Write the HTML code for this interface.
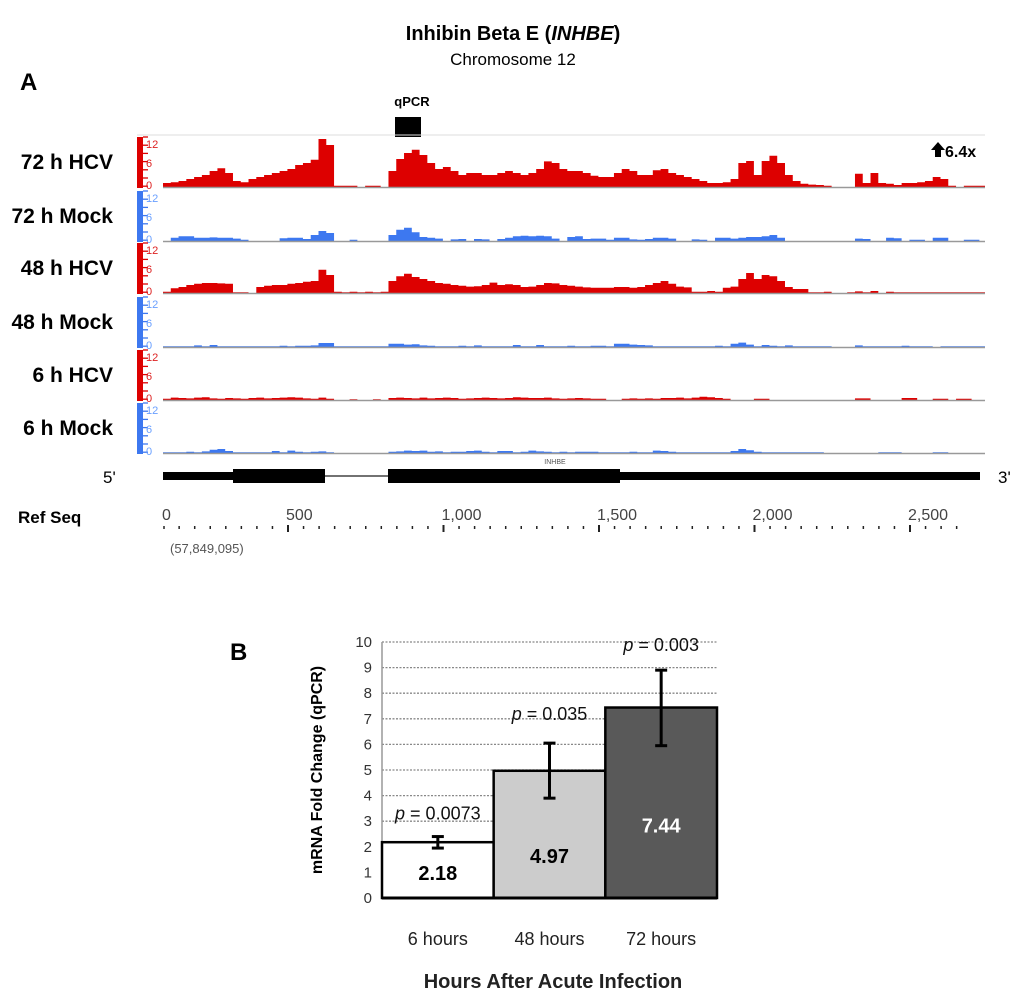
<!DOCTYPE html>
<html><head><meta charset="utf-8"><style>
body{margin:0;background:#fff;}
svg{display:block;font-family:"Liberation Sans",Arial,sans-serif;}
</style></head><body>
<svg id="fig" width="1026" height="1000" viewBox="0 0 1026 1000" xmlns="http://www.w3.org/2000/svg">
<text x="513" y="40" font-size="20" font-weight="bold" text-anchor="middle">Inhibin Beta E (<tspan font-style="italic">INHBE</tspan>)</text>
<text x="513" y="65" font-size="17" text-anchor="middle">Chromosome 12</text>
<text x="20" y="90" font-size="24" font-weight="bold">A</text>
<text x="412" y="106" font-size="13" font-weight="bold" text-anchor="middle">qPCR</text>
<rect x="395" y="117" width="26" height="20" fill="#000"/>
<line x1="137" y1="135" x2="985" y2="135" stroke="#ddd" stroke-width="1"/>
<g id="tracks"></g>
<g id="gene">
<text x="103" y="483" font-size="17">5'</text>
<text x="998" y="483" font-size="17">3'</text>
<rect x="163" y="472" width="817" height="8" fill="#000"/>
<rect x="233" y="469" width="92" height="14" fill="#000"/>
<rect x="325" y="471" width="63" height="10" fill="#fff"/>
<line x1="325" y1="476" x2="388" y2="476" stroke="#444" stroke-width="1.5"/>
<rect x="388" y="469" width="232" height="14" fill="#000"/>
<text x="555" y="464" font-size="7" fill="#555" text-anchor="middle">INHBE</text>
</g>
<text x="18" y="523" font-size="17" font-weight="bold">Ref Seq</text>
<g id="ruler"></g>
<text x="170" y="553" font-size="13" fill="#555">(57,849,095)</text>
<text x="945" y="157" font-size="16" font-weight="bold">6.4x</text>
<path d="M938 142 L945 150 L941 150 L941 157 L935 157 L935 150 L931 150 Z" fill="#000"/>
<text x="230" y="660" font-size="24" font-weight="bold">B</text>
<g id="bars"></g>
</svg>
<script>
const NS="http://www.w3.org/2000/svg";
function mk(tag,attrs,parent){const e=document.createElementNS(NS,tag);for(const k in attrs)e.setAttribute(k,attrs[k]);parent.appendChild(e);return e;}
// ---- Panel A data ----
const trackNames=["72 h HCV","72 h Mock","48 h HCV","48 h Mock","6 h HCV","6 h Mock"];
const trackColors=["#dd0000","#3d78f0","#dd0000","#3d78f0","#dd0000","#3d78f0"];
const binSize=25;
const cov72HCV=[1,1.2,1.5,2,2.5,3,4,4.7,3.5,1.5,1.2,2,2.5,3,3.5,4,4.5,5.5,6,6.8,12,10.5,0.3,0.3,0.3,0,0.3,0.3,0,4,7,8.5,9.3,8,6,4.5,5,4,3,3.5,3.5,3,3,3.5,4,3.5,3,3.5,4.5,6.4,6,4.5,4,4,3.5,2.8,2.5,2.5,3.5,4.5,4,3,3,4.2,4.5,3.5,3,2.5,2,1.5,1,1,1.2,2,6,6.5,3,6.5,7.8,6,3,1.5,0.8,0.6,0.5,0.3,0,0,0,3.3,1,3.5,1,0.8,0.5,1,1,1.2,1.5,2.5,2,0.3,0,0.3,0.3,0.3];
const cov72Mock=[0,0.8,1.2,1.2,0.8,0.8,0.9,0.8,0.8,0.6,0.3,0,0,0,0,0.7,0.8,0.8,0.5,1.5,2.5,2,0,0,0.3,0,0,0,0,1.5,2.8,3.3,2.2,1,0.8,0.6,0,0.4,0.5,0,0.5,0.4,0,0.5,0.8,1.2,1.3,1.2,1.3,1.2,0.6,0,1,1.2,0.5,0.6,0.6,0.3,0.8,0.8,0.4,0.3,0.5,0.8,0.8,0.6,0,0,0.4,0.3,0,0.8,0.8,0.6,0.8,1,1,1.2,1.5,0.8,0,0,0,0,0,0,0,0,0,0.6,0.5,0,0,0.8,0.7,0,0.3,0.3,0,0.8,0.8,0,0,0.3,0.3,0];
const cov48HCV=[0.3,1.2,1.5,2,2.3,2.5,2.5,2.4,2.3,0.2,0.2,0,1.5,1.8,2,2,2.3,2.5,2.8,3,5.8,4.5,0.3,0.2,0.3,0.2,0.3,0.2,0.3,3,4.2,4.8,4,3.5,3,2.5,2.3,2,1.8,1.6,1.7,2,2.6,2,2.2,2,1.5,1.6,2,2.5,2.4,2,1.8,1.6,1.4,1.3,1.3,1.3,1.5,1.5,1.3,1.5,2,2.5,3,2.3,1.6,1.4,0.3,0.3,0.5,0.3,1.3,1.6,3.5,5,3.5,4.5,4.2,3,1.5,1,1,0.2,0.2,0.3,0,0,0.2,0.4,0.2,0.5,0,0.3,0.2,0.2,0.2,0.2,0.2,0.2,0.2,0.2,0.2,0.2,0.2,0.2];
const cov48Mock=[0.2,0.2,0.2,0.2,0.4,0.2,0.5,0.2,0.2,0.2,0.2,0.2,0.2,0.2,0.2,0.3,0.2,0.3,0.3,0.4,1,1,0.2,0.2,0.2,0.2,0.2,0.2,0.2,0.8,0.8,0.6,0.7,0.4,0.3,0.2,0.2,0.2,0.3,0.2,0.4,0.2,0.2,0.2,0.2,0.5,0.2,0.2,0.5,0.2,0.2,0.2,0.3,0.2,0.2,0.3,0.3,0.2,0.8,0.8,0.6,0.5,0.4,0.2,0.2,0.2,0.2,0.2,0.2,0.2,0.2,0.3,0.2,0.8,1.1,0.6,0.2,0.5,0.3,0.2,0.4,0.2,0.2,0.2,0.2,0.2,0,0,0,0.4,0.2,0.2,0.2,0.2,0.2,0.3,0.2,0.2,0.2,0,0.2,0.2,0.2,0.2,0.2,0.2];
const cov6HCV=[0.3,0.6,0.5,0.4,0.6,0.7,0.4,0.3,0.5,0.4,0.3,0.5,0.6,0.4,0.5,0.6,0.7,0.6,0.4,0.3,0.6,0.3,0,0,0.2,0,0,0.2,0,0.5,0.6,0.5,0.4,0.6,0.4,0.5,0.6,0.5,0.3,0.4,0.5,0.6,0.5,0.4,0.5,0.7,0.6,0.5,0.5,0.6,0.4,0.3,0.4,0.5,0.4,0.3,0.3,0,0,0.3,0.4,0.3,0.4,0.3,0.5,0.5,0.6,0.4,0.6,0.8,0.7,0.5,0.3,0,0,0,0.3,0.3,0,0,0,0,0,0,0,0,0,0,0,0.4,0.4,0,0,0,0,0.5,0.5,0,0,0.3,0.3,0,0.3,0.3,0,0];
const cov6Mock=[0.2,0.2,0.2,0.3,0.2,0.4,0.8,1,0.5,0.2,0.2,0.2,0.2,0.2,0.5,0.2,0.6,0.3,0.2,0.3,0.4,0.2,0,0,0,0,0,0,0,0.3,0.4,0.6,0.5,0.6,0.3,0.4,0.2,0.3,0.3,0.5,0.6,0.3,0.2,0.5,0.5,0.2,0.3,0.6,0.4,0.3,0.2,0.3,0.2,0.3,0.3,0.3,0.2,0.2,0.2,0.2,0.3,0.2,0.2,0.6,0.5,0.3,0.2,0.2,0.2,0.2,0.2,0.2,0.2,0.5,1,0.7,0.3,0.2,0.2,0.2,0.2,0.2,0.2,0.2,0.2,0,0,0,0,0,0,0,0.2,0.2,0.2,0,0,0,0,0.2,0.2,0,0,0,0,0];
const coverage=[cov72HCV,cov72Mock,cov48HCV,cov48Mock,cov6HCV,cov6Mock];
const trackMax=12;
const axisTicks=[12,6,0];
const rulerTicks=[0,500,1000,1500,2000,2500];
const rulerLabels=["0","500","1,000","1,500","2,000","2,500"];

const X0=163,BP=0.311,TH=48,baselines=[187,241,293,347,400,453];
const xs=bp=>X0+bp*BP;
const RX0=132.5;
const xr=bp=>Math.max(164,RX0+bp*BP);
const g=document.getElementById('tracks');
trackNames.forEach((name,t)=>{
  const base=baselines[t],col=trackColors[t];
  const ys=v=>base-v/trackMax*TH;
  const tg=mk('g',{},g);
  
  
  const lab=mk('text',{x:113,y:base-18,'font-size':21,'font-weight':'bold','text-anchor':'end'},tg);
  lab.textContent=name;
  
  
  const ax=mk('rect',{x:137,y:base-50,width:6,height:51,fill:col},tg);
  
  
  for(let k=0;k<=6;k++){mk('line',{x1:143,x2:148,y1:base-50+k*8.2,y2:base-50+k*8.2,stroke:col,'stroke-width':1.3},tg);}
  axisTicks.forEach(v=>{const tx=mk('text',{x:146,y:ys(v)+ (v==12?9:(v==0?2:4)),'font-size':11,fill:t%2?'#6aa0ff':'#dd2222'},tg);tx.textContent=String(v);
    
    });
  const data=coverage[t];
  let d='M'+xs(0)+' '+base;
  data.forEach((v,i)=>{const xa=xs(i*binSize),xb=Math.min(xs((i+1)*binSize),985);d+=' L'+xa+' '+ys(v)+' L'+xb+' '+ys(v);});
  d+=' L985 '+base+' Z';
  const p=mk('path',{d:d,fill:col},tg);
  
  
  mk('line',{x1:X0,x2:985,y1:base+0.5,y2:base+0.5,stroke:'#999','stroke-width':1.5},tg);
});
const r=document.getElementById('ruler');
rulerTicks.forEach((v,i)=>{const t=mk('text',{x:xr(v)-2,y:520,'font-size':16,fill:'#444'},r);t.textContent=rulerLabels[i];
  
  });
for(let bp=100;bp<=2650;bp+=50){const maj=bp%500===0;const x=xr(bp);mk('line',{x1:x,x2:x,y1:maj?525:526,y2:maj?532:529,stroke:'#222','stroke-width':maj?2:1.5},r);}

// ---- Panel B data ----
const categories=["6 hours","48 hours","72 hours"];
const foldValues=[2.18,4.97,7.44];
const errLow=[1.95,3.9,5.95];
const errHigh=[2.4,6.05,8.9];
const pLabels=["0.0073","0.035","0.003"];
const valueLabels=["2.18","4.97","7.44"];
const yTicks=[0,1,2,3,4,5,6,7,8,9,10];
const barFills=["#ffffff","#cccccc","#595959"];
const labelFills=["#000","#000","#fff"];

const PX0=382,PX1=717,Y0=898,UNIT=25.6;
const yb=v=>Y0-v*UNIT;
const bw=(PX1-PX0)/categories.length;
const xb=i=>PX0+i*bw;
const B=document.getElementById('bars');
const ylab=mk('text',{x:0,y:0,'font-size':16,'font-weight':'bold',transform:'translate(322,770) rotate(-90)','text-anchor':'middle'},B);
ylab.textContent='mRNA Fold Change (qPCR)';


yTicks.forEach(v=>{
  const t=mk('text',{x:372,y:yb(v)+5,'font-size':15,fill:'#333','text-anchor':'end'},B);t.textContent=String(v);
  
  
  if(v>0){const l=mk('line',{x1:PX0,x2:PX1,y1:yb(v),y2:yb(v),stroke:'#888','stroke-width':1.3,'stroke-dasharray':'2,1.5'},B);
    
    }
});
mk('line',{x1:PX0,x2:PX0,y1:yb(10),y2:Y0,stroke:'#999','stroke-width':1.5},B);
const valueLabelOffsets=[38,92,125];
categories.forEach((c,i)=>{
  const rct=mk('rect',{x:xb(i),y:yb(foldValues[i]),width:bw,height:Y0-yb(foldValues[i]),fill:barFills[i],stroke:'#000','stroke-width':2.5},B);
  
  
  const cx=xb(i)+bw/2;
  const eb=mk('g',{stroke:'#000','stroke-width':3},B);
  
  
  mk('line',{x1:cx,x2:cx,y1:yb(errHigh[i]),y2:yb(errLow[i])},eb);
  mk('line',{x1:cx-6,x2:cx+6,y1:yb(errHigh[i]),y2:yb(errHigh[i])},eb);
  mk('line',{x1:cx-6,x2:cx+6,y1:yb(errLow[i]),y2:yb(errLow[i])},eb);
  const vl=mk('text',{x:cx,y:yb(foldValues[i])+valueLabelOffsets[i],'font-size':20,'font-weight':'bold','text-anchor':'middle',fill:labelFills[i]},B);
  vl.textContent=valueLabels[i];
  
  
  const py=i===0?yb(errHigh[i])-17:(i===1?yb(errHigh[i])-23:yb(errHigh[i])-19);
  const pl=mk('text',{x:cx,y:py,'font-size':18,'text-anchor':'middle',fill:'#111'},B);
  pl.innerHTML='<tspan font-style="italic">p</tspan> = '+pLabels[i];
  
  
  const cl=mk('text',{x:cx,y:945,'font-size':18,'text-anchor':'middle',fill:'#222'},B);
  cl.textContent=c;
  
  
});
mk('line',{x1:PX0,x2:PX1,y1:Y0,y2:Y0,stroke:'#000','stroke-width':3},B);
const xt=mk('text',{x:553,y:988,'font-size':20,'font-weight':'bold','text-anchor':'middle',fill:'#222'},B);
xt.textContent='Hours After Acute Infection';


</script>
</body></html>
